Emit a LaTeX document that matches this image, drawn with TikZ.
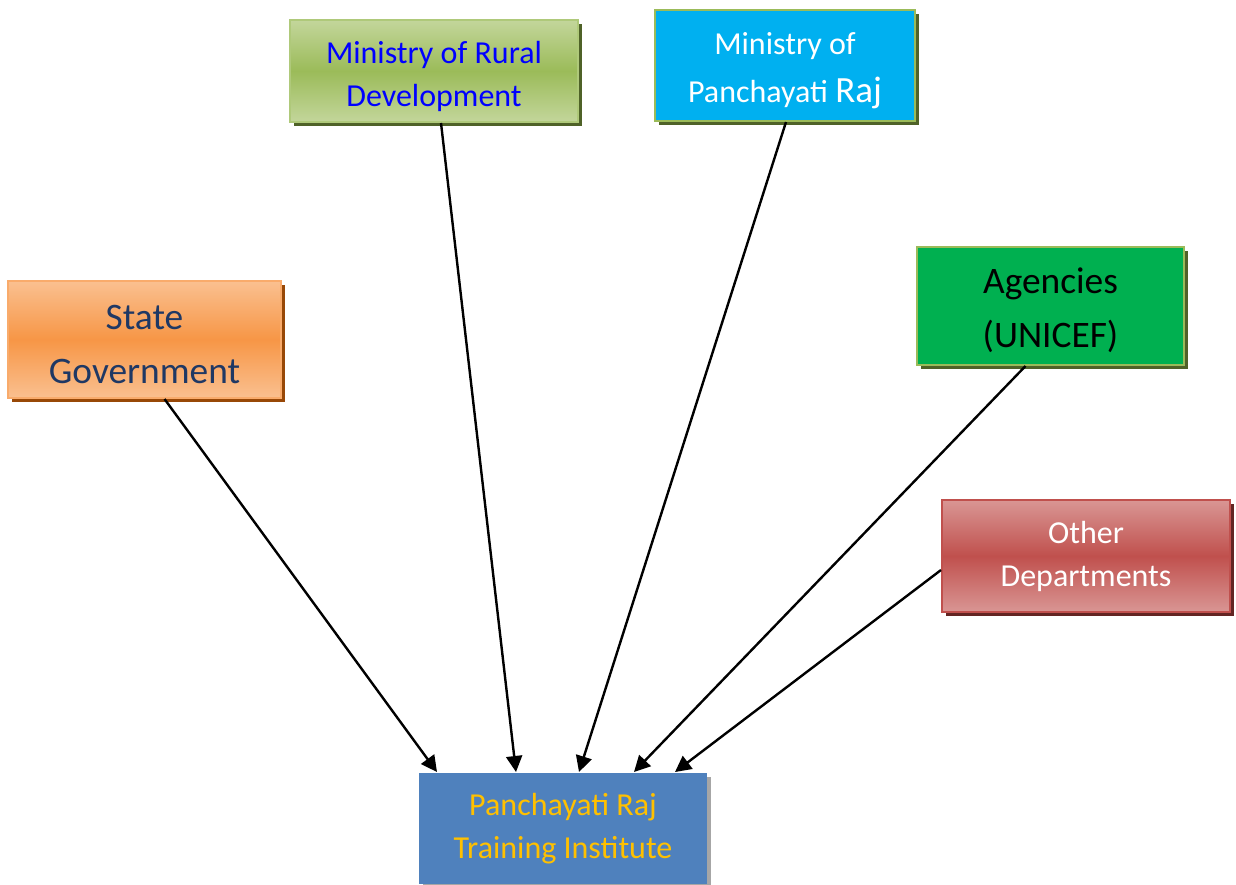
\documentclass[tikz,border=0pt]{standalone}
\usepackage{fontspec}
\setmainfont{Carlito}
\usetikzlibrary{shadows,arrows.meta,calc}
\definecolor{olivelight}{HTML}{C3D69B}
\definecolor{olivemid}{HTML}{9BBB59}
\definecolor{oliveshade}{HTML}{4F6228}
\definecolor{skyblue}{HTML}{00B0F0}
\definecolor{leafgreen}{HTML}{00B050}
\definecolor{orangelight}{HTML}{FAC090}
\definecolor{orangemid}{HTML}{F79646}
\definecolor{orangeshade}{HTML}{984807}
\definecolor{redlight}{HTML}{D99694}
\definecolor{redmid}{HTML}{C0504D}
\definecolor{redshade}{HTML}{632523}
\definecolor{steelblue}{HTML}{4F81BD}
\definecolor{goldtext}{HTML}{FFC000}
\definecolor{navytext}{HTML}{1F3864}
\newcommand\lift[1]{\rule{0pt}{#1}}

\begin{document}
\begin{tikzpicture}[x=0.5pt, y=-0.5pt, >={Triangle[length=8pt,width=8pt]},
  box/.style={draw, line width=1pt, align=center, inner sep=0pt},
  small/.style={font=\fontsize{16}{21.5}\selectfont},
  big/.style={font=\fontsize{18.7}{27}\selectfont},
  shade/.style={drop shadow={shadow xshift=2pt, shadow yshift=-2pt, opacity=1, fill=#1}},
  link/.style={->, line width=1.2pt}]
\useasboundingbox (0,0) rectangle (1236,884);
% sources:
\node (rural) at (434,71) [box, shade=oliveshade, draw=olivemid!80!white, top color=olivelight, bottom color=olivelight, middle color=olivemid, minimum width=144pt, minimum height=51pt, small, text=blue] {\lift{16.5pt}Ministry of Rural\\Development};
\node (mopr) at (785,65.5) [box, shade=oliveshade, draw=olivemid, fill=skyblue, minimum width=130pt, minimum height=55.5pt, text=white, font=\fontsize{16}{24}\selectfont] {\lift{16.5pt}Ministry of\\Panchayati {\fontsize{18.5}{24}\selectfont Raj}};
\node (state) at (144.5,339.5) [box, shade=orangeshade, draw=orangemid!80!white, top color=orangelight, bottom color=orangelight, middle color=orangemid, minimum width=136.5pt, minimum height=58.5pt, big, text=navytext] {\lift{17.5pt}State\\Government};
\node (agency) at (1050.5,306) [box, shade=oliveshade, draw=olivemid, fill=leafgreen, minimum width=133.5pt, minimum height=59pt, big, text=black] {\lift{17.5pt}Agencies\\(UNICEF)};
\node (other) at (1086,556) [box, shade=redshade, draw=redmid, top color=redlight, bottom color=redlight, middle color=redmid, minimum width=144pt, minimum height=56pt, small, text=white] {Other\\Departments};
% target:
\node (prti) at (563,828.5) [box, shade=gray!70, draw=none, fill=steelblue, minimum width=144pt, minimum height=55.5pt, small, text=goldtext] {Panchayati Raj\\Training Institute};
% arrows into the institute:
\draw[link] ($(state.south)+(20,0)$) -- ($(prti.north west)+(19,0)$);
\draw[link] ($(rural.south)+(7,0)$) -- ($(prti.north west)+(98,0)$);
\draw[link] ($(mopr.south)+(1,0)$) -- ($(prti.north west)+(161,0)$);
\draw[link] ($(agency.south)+(-25,0)$) -- ($(prti.north west)+(216,0)$);
\draw[link] ($(other.west)+(0,14)$) -- ($(prti.north west)+(257,0)$);
\end{tikzpicture}
\end{document}
